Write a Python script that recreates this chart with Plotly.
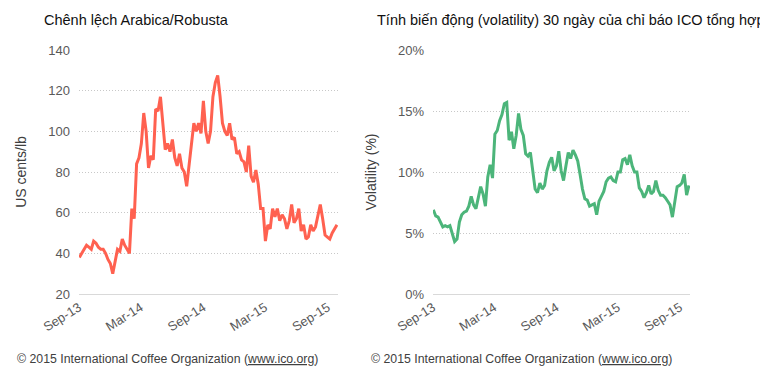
import plotly.graph_objects as go
import pandas as pd

# weekly observation dates (Sep 2013 - Sep 2015)
dates = pd.date_range("2013-09-02", periods=109, freq="7D")

# Arabica/Robusta differential, US cents/lb
spread = [38, 40, 42, 44, 43, 42, 46, 45, 43, 42,
          42, 40, 37, 35, 30, 36, 42, 41, 47, 44,
          42, 40, 62, 57, 84, 87, 94, 109, 100, 82,
          88, 86, 111, 110, 117, 105, 91, 94, 90, 96,
          87, 83, 89, 82, 80, 73, 84, 92, 104, 100,
          104, 99, 115, 100, 94, 100, 117, 124, 127.5, 117,
          104, 100, 98, 104, 96, 97, 89, 90, 86, 85,
          80, 93, 78, 75, 81, 74, 62, 62, 46, 54,
          52, 62, 58, 62, 56, 59, 57, 52, 56, 64,
          55, 57, 62, 51, 54, 47, 48, 54, 51, 53,
          58, 64, 57, 49, 48, 47, 50, 52, 54]

# 30-day volatility of ICO composite indicator, %
vol = [6.9, 6.4, 6.3, 5.9, 5.5, 5.6, 5.5, 5.6, 4.9, 4.3,
       4.5, 5.9, 6.5, 6.7, 6.8, 7.2, 8.0, 7.3, 7.0, 7.8,
       8.8, 8.2, 7.2, 9.6, 10.6, 9.5, 13.1, 13.4, 14.2, 14.7,
       15.6, 15.7, 12.6, 13.3, 11.9, 13.0, 14.8, 13.5, 13.0, 11.5,
       11.3, 11.6, 10.1, 8.6, 8.3, 9.1, 8.6, 8.9, 10.1, 10.8,
       11.2, 10.1, 10.5, 11.7, 10.1, 9.3, 10.5, 11.6, 11.1, 11.8,
       11.4, 10.9, 9.8, 8.6, 7.8, 7.7, 7.2, 7.3, 7.4, 6.5,
       7.6, 8.0, 8.4, 9.2, 9.5, 9.6, 9.3, 9.2, 10.0, 10.0,
       11.0, 11.1, 10.6, 11.4, 10.5, 10.0, 10.0, 8.7, 8.4, 7.9,
       8.3, 8.9, 8.2, 8.4, 9.3, 8.5, 8.1, 8.1, 7.9, 7.6,
       7.3, 6.3, 7.6, 8.8, 8.9, 9.1, 9.8, 8.1, 8.9]
vol_frac = [v / 100 for v in vol]

tick_dates = ["2013-09-01", "2014-03-01", "2014-09-01", "2015-03-01", "2015-09-01"]
tick_labels = ["Sep-13", "Mar-14", "Sep-14", "Mar-15", "Sep-15"]

FONT = "Liberation Sans, Arial, sans-serif"
W, H = 760, 373  # page body has an 8px margin inside the 768x381 window

fig = go.Figure()
fig.add_trace(go.Scatter(x=dates, y=spread, mode="lines",
                         line=dict(color="#FF6150", width=3),
                         xaxis="x", yaxis="y", showlegend=False))
fig.add_trace(go.Scatter(x=dates, y=vol_frac, mode="lines",
                         line=dict(color="#4CB57A", width=3),
                         xaxis="x2", yaxis="y2", showlegend=False))

xcommon = dict(type="date", range=["2013-09-01", "2015-10-01"],
               tickvals=tick_dates, ticktext=tick_labels, tickangle=-32,
               showgrid=False, zeroline=False, showline=True,
               linecolor="#d9d9d9", linewidth=1, ticks="", automargin=False,
               tickfont=dict(family=FONT, size=13, color="#595959"))
ycommon = dict(showgrid=True, gridcolor="#c8c8c8", griddash="1px,2px", gridwidth=1,
               zeroline=False, showline=False, ticks="", automargin=False,
               ticklabelstandoff=8,
               tickfont=dict(family=FONT, size=13, color="#595959"))

def px_x(x):
    return (x - 8) / W

def px_y(y):
    return 1 - (y - 8) / H

fig.update_layout(
    width=W, height=H, autosize=False,
    margin=dict(l=0, r=0, t=0, b=0, pad=0),
    paper_bgcolor="white", plot_bgcolor="white",
    xaxis=dict(domain=[px_x(79), px_x(338)], anchor="y", **xcommon),
    xaxis2=dict(domain=[px_x(433), px_x(690)], anchor="y2", **xcommon),
    yaxis=dict(domain=[px_y(294), px_y(50)], anchor="x", range=[20, 140],
               tickvals=[20, 40, 60, 80, 100, 120, 140],
               title=dict(text="US cents/lb", standoff=18,
                          font=dict(family=FONT, size=14, color="#404040")),
               **ycommon),
    yaxis2=dict(domain=[px_y(294), px_y(50)], anchor="x2", range=[0, 0.20],
                tickvals=[0, 0.05, 0.10, 0.15, 0.20], tickformat=".0%",
                title=dict(text="Volatility (%)", standoff=18,
                           font=dict(family=FONT, size=14, color="#404040")),
                **ycommon),
    annotations=[
        dict(text="Chênh lệch Arabica/Robusta", x=px_x(42), y=px_y(20),
             xref="paper", yref="paper", xanchor="left", yanchor="middle",
             showarrow=False, font=dict(family=FONT, size=14.5, color="#111111")),
        dict(text="Tính biến động (volatility) 30 ngày của chỉ báo ICO tổng hợp",
             x=px_x(375), y=px_y(20),
             xref="paper", yref="paper", xanchor="left", yanchor="middle",
             showarrow=False, font=dict(family=FONT, size=14.5, color="#111111")),
        dict(text="© 2015 International Coffee Organization (<u>www.ico.org</u>)",
             x=px_x(15), y=px_y(359),
             xref="paper", yref="paper", xanchor="left", yanchor="middle",
             showarrow=False, font=dict(family=FONT, size=12.3, color="#404040")),
        dict(text="© 2015 International Coffee Organization (<u>www.ico.org</u>)",
             x=px_x(369), y=px_y(359),
             xref="paper", yref="paper", xanchor="left", yanchor="middle",
             showarrow=False, font=dict(family=FONT, size=12.3, color="#404040")),
    ],
)

fig.write_html("out.html")
